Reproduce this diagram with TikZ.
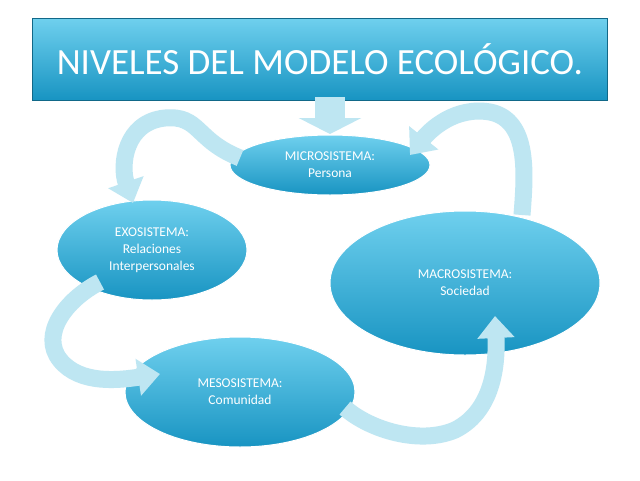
\documentclass[tikz,border=0pt]{standalone}
\usepackage{fontspec}
\setmainfont{Carlito}
\usetikzlibrary{shapes.geometric,arrows.meta}
\definecolor{cyanA}{HTML}{6FD0EE}
\definecolor{cyanB}{HTML}{1894C2}
\definecolor{arrc}{HTML}{BEE6F2}
\tikzset{
  eco/.style={ellipse, shade, top color=cyanA, bottom color=cyanB, draw=white, line width=1pt, text=white, align=center, font=\fontsize{13.5}{17}\selectfont, inner sep=0pt},
  flow/.style={line width=17pt, draw=arrc, -{Triangle[length=22pt,width=36pt]}}
}
\begin{document}
\begin{tikzpicture}[x=1pt,y=-1pt]
\useasboundingbox (0,0) rectangle (640,480);
\fill[white] (0,0) rectangle (640,480);
\node[shade, top color=cyanA, bottom color=cyanB, draw=cyanB!70!black, minimum width=575pt, minimum height=82pt, text=white, font=\fontsize{37}{42}\selectfont, inner sep=0pt] (title) at (320,59) {NIVELES DEL MODELO ECOLÓGICO.};
\node[eco, minimum width=200pt, minimum height=60pt] (micro) at (330,165) {MICROSISTEMA:\\Persona};
\node[eco, minimum width=190pt, minimum height=100pt] (exo) at (152,250) {EXOSISTEMA:\\Relaciones\\Interpersonales};
\node[eco, minimum width=270pt, minimum height=144pt] (macro) at (465,283) {MACROSISTEMA:\\Sociedad};
\node[eco, minimum width=230pt, minimum height=110pt] (meso) at (240,392) {MESOSISTEMA:\\Comunidad};
\coordinate (dtop) at (330,97);
\coordinate (dtip) at (330,134);
\draw[line width=30pt, draw=arrc, -{Triangle[length=16pt,width=62pt]}] (dtop) -- (dtip);
\coordinate (a1s) at (240,158);
\coordinate (a2s) at (100,282);
\coordinate (a3s) at (345,408);
\coordinate (a4s) at (522,215);
\draw[flow] (a1s) .. controls (195,140) and (200,115) .. (165,118) .. controls (125,122) and (120,165) .. (133,203);
\draw[flow] (a2s) .. controls (65,300) and (40,335) .. (60,360) .. controls (80,385) and (120,380) .. (160,374);
\draw[flow] (a3s) .. controls (370,430) and (420,445) .. (455,430) .. controls (495,410) and (497,360) .. (495,316);
\draw[flow] (a4s) .. controls (525,175) and (530,120) .. (490,112) .. controls (455,106) and (430,130) .. (410,155);
\end{tikzpicture}
\end{document}
